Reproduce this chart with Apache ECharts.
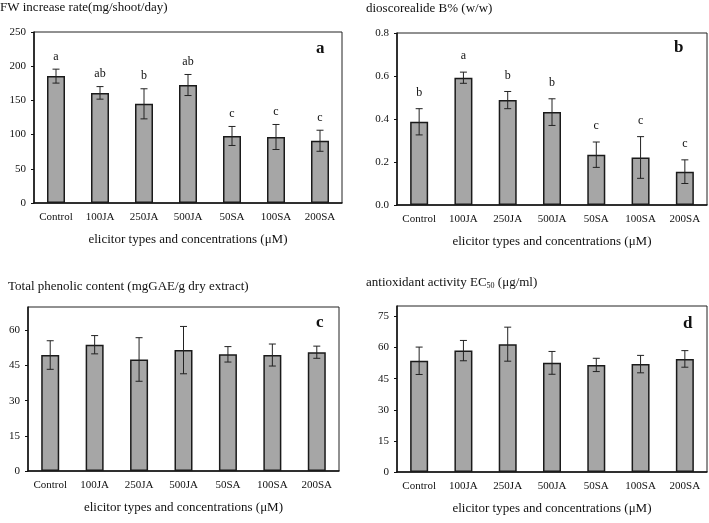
<!DOCTYPE html>
<html><head><meta charset="utf-8">
<script src="https://cdn.jsdelivr.net/npm/echarts@6/dist/echarts.min.js"></script>
<style>html,body{margin:0;padding:0;background:#fff}#c{width:709px;height:523px}</style>
</head><body><div id="c"></div>
<script>
const categories = ['Control','100JA','250JA','500JA','50SA','100SA','200SA'];
const fwMean = [185.5, 161, 145, 172.5, 98, 96.5, 91];
const fwErr = [10.2, 9.2, 22, 15.4, 13.9, 18.3, 15.4];
const fwLetters = ['a','ab','b','ab','c','c','c'];
const dioMean = [0.387, 0.592, 0.488, 0.432, 0.234, 0.221, 0.155];
const dioErr = [0.061, 0.026, 0.040, 0.062, 0.059, 0.097, 0.055];
const dioLetters = ['b','a','b','b','c','c','c'];
const tpcMean = [49.5, 53.9, 47.6, 51.6, 49.8, 49.5, 50.7];
const tpcErr = [6.1, 3.9, 9.3, 10.1, 3.3, 4.7, 2.6];
const ec50Mean = [53.6, 58.5, 61.6, 52.6, 51.6, 52.0, 54.5];
const ec50Err = [6.6, 4.9, 8.2, 5.5, 3.2, 4.2, 4.0];
const fwTicks = [0, 250, 50];
const dioTicks = [0, 0.8, 0.2];
const tpcTicks = [0, 70, 15];
const ec50Ticks = [0, 80, 15];

const FONT = '"Liberation Serif", "Times New Roman", serif';
const chart = echarts.init(document.getElementById('c'));

const grids = [
  {left: 34, top: 32, width: 308, height: 171},
  {left: 397, top: 33, width: 310, height: 172},
  {left: 28, top: 307, width: 311, height: 164},
  {left: 397, top: 306, width: 310, height: 166}
];
const panels = [
  {mean: fwMean, err: fwErr, letters: fwLetters, ticks: fwTicks, off: 12.5, fmt: v => String(v)},
  {mean: dioMean, err: dioErr, letters: dioLetters, ticks: dioTicks, off: 16, fmt: v => v.toFixed(1)},
  {mean: tpcMean, err: tpcErr, letters: null, ticks: tpcTicks, off: 0, fmt: v => String(v)},
  {mean: ec50Mean, err: ec50Err, letters: null, ticks: ec50Ticks, off: 0, fmt: v => String(v)}
];

function errRender(letters, off) {
  return function (params, api) {
    const i = api.value(0), m = api.value(1), e = api.value(2);
    const hi = api.coord([i, m + e]);
    const lo = api.coord([i, m - e]);
    const w = 3.5;
    const ls = {stroke: '#222', lineWidth: 1};
    const ch = [
      {type: 'line', shape: {x1: hi[0], y1: hi[1], x2: lo[0], y2: lo[1]}, style: ls},
      {type: 'line', shape: {x1: hi[0] - w, y1: hi[1], x2: hi[0] + w, y2: hi[1]}, style: ls},
      {type: 'line', shape: {x1: lo[0] - w, y1: lo[1], x2: lo[0] + w, y2: lo[1]}, style: ls}
    ];
    if (letters) {
      ch.push({type: 'text', style: {text: letters[params.dataIndex], x: hi[0], y: hi[1] - off,
        align: 'center', verticalAlign: 'middle', fontFamily: FONT, fontSize: 12, fill: '#111'}});
    }
    return {type: 'group', children: ch};
  };
}

const xAxis = [], yAxis = [], series = [];
panels.forEach((p, k) => {
  xAxis.push({
    type: 'category', gridIndex: k, data: categories,
    axisLine: {lineStyle: {color: '#111', width: 1.5}},
    axisTick: {show: false},
    axisLabel: {fontFamily: FONT, fontSize: 11, color: '#111', margin: 9, interval: 0},
    name: 'elicitor types and concentrations (μM)', nameLocation: 'middle', nameGap: 30,
    nameTextStyle: {fontFamily: FONT, fontSize: 13, color: '#111'}
  });
  yAxis.push({
    type: 'value', gridIndex: k, min: p.ticks[0], max: p.ticks[1], interval: p.ticks[2],
    axisLine: {show: true, lineStyle: {color: '#111', width: 1.5}},
    axisTick: {show: true, length: 3, lineStyle: {color: '#111'}},
    splitLine: {show: false},
    axisLabel: {fontFamily: FONT, fontSize: 11, color: '#111', margin: 8, formatter: p.fmt,
      showMaxLabel: (k < 2)}
  });
  series.push({
    type: 'bar', xAxisIndex: k, yAxisIndex: k, data: p.mean, barWidth: 18,
    itemStyle: {color: '#a6a6a6', borderColor: '#1a1a1a', borderWidth: 1.5},
    silent: true, animation: false
  });
  series.push({
    type: 'custom', xAxisIndex: k, yAxisIndex: k,
    data: categories.map((c, i) => [i, p.mean[i], p.err[i]]),
    renderItem: errRender(p.letters, p.off), animation: false, z: 5,
    encode: {x: 0, y: [1]}
  });
});

const tStyle = {fontFamily: FONT, fontSize: 13, color: '#111', fontWeight: 'normal'};
const pStyle = {fontFamily: FONT, fontSize: 17, color: '#111', fontWeight: 'bold'};
chart.setOption({
  animation: false,
  grid: grids.map(g => Object.assign({show: true, borderColor: '#222', borderWidth: 1, backgroundColor: 'transparent'}, g)),
  title: [
    {text: 'FW increase rate(mg/shoot/day)', left: 0, top: 1, padding: 0, textStyle: tStyle},
    {text: 'dioscorealide B% (w/w)', left: 366, top: 2, padding: 0, textStyle: tStyle},
    {text: 'Total phenolic content (mgGAE/g dry extract)', left: 8, top: 280, padding: 0, textStyle: tStyle},
    {text: '{n|antioxidant activity EC}{s|50}{n| (μg/ml)}', left: 366, top: 276, padding: 0,
      textStyle: Object.assign({}, tStyle, {rich: {
        n: {fontFamily: FONT, fontSize: 13, color: '#111'},
        s: {fontFamily: FONT, fontSize: 8, color: '#111', verticalAlign: 'bottom', padding: [6, 0, 0, 0]}
      }})},
    {text: 'a', left: 316, top: 40, padding: 0, textStyle: pStyle},
    {text: 'b', left: 674, top: 39, padding: 0, textStyle: pStyle},
    {text: 'c', left: 316, top: 314, padding: 0, textStyle: pStyle},
    {text: 'd', left: 683, top: 315, padding: 0, textStyle: pStyle}
  ],
  xAxis, yAxis, series
});
</script></body></html>
